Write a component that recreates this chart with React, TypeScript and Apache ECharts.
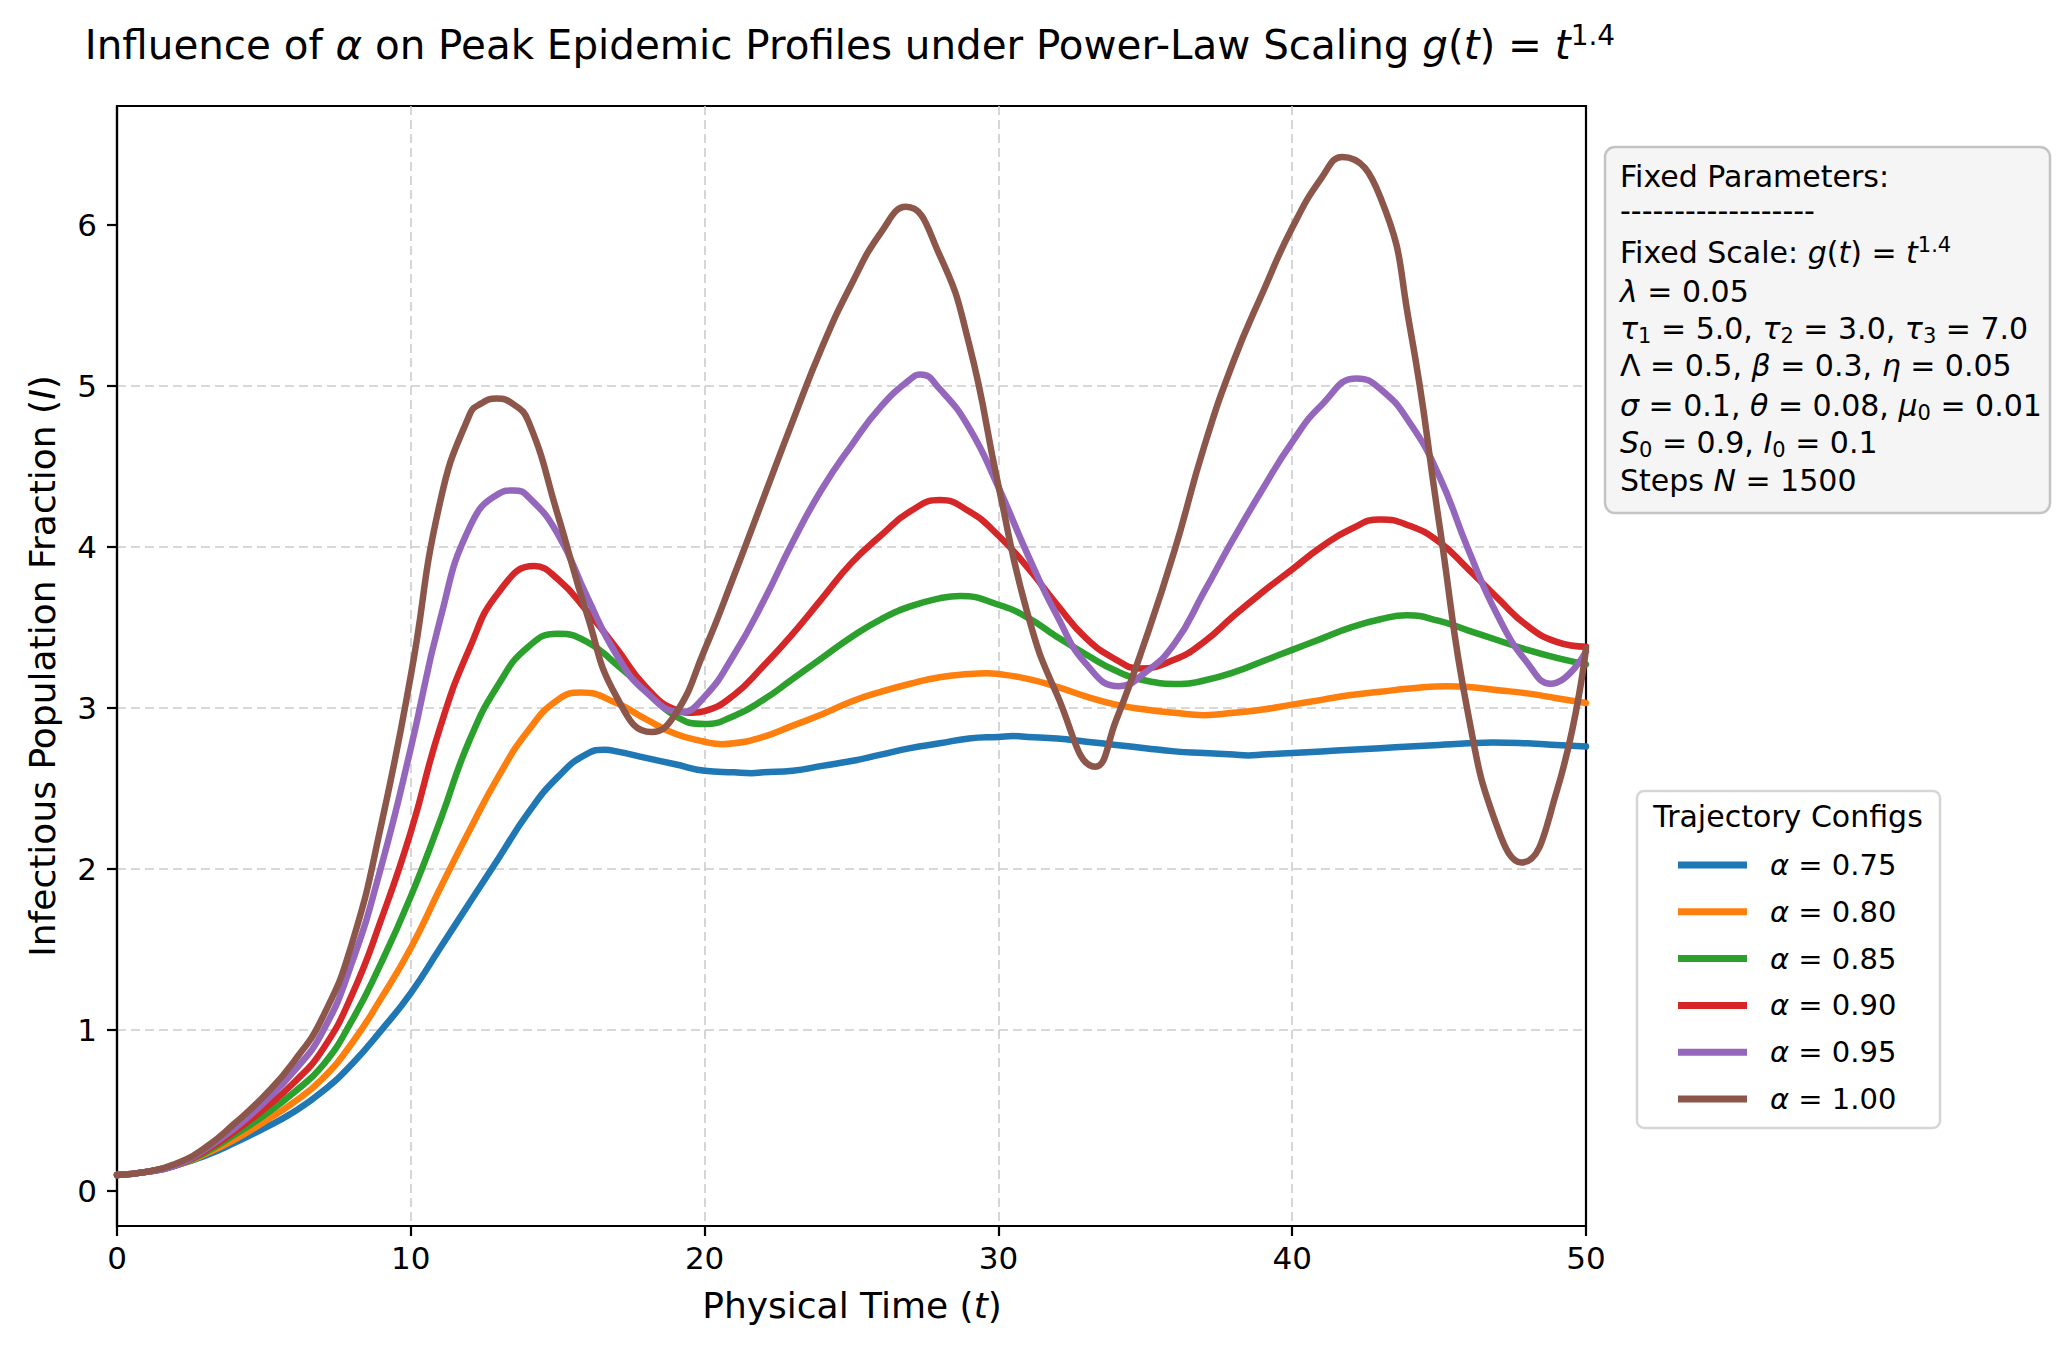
import React, { useEffect, useRef } from "react";
import * as echarts from "echarts";

// ---------------- data ----------------
const TIME = [
  0, 1, 2, 3, 4, 5, 6, 7, 8, 9,
  10, 11, 12, 13, 14, 15, 16, 17, 18, 19,
  20, 21, 22, 23, 24, 25, 26, 27, 28, 29,
  30, 31, 32, 33, 34, 35, 36, 37, 38, 39,
  40, 41, 42, 43, 44, 45, 46, 47, 48, 49, 50,
];

const ALPHA_LABELS = ["0.75", "0.80", "0.85", "0.90", "0.95", "1.00"];
const COLORS = ["#1f77b4", "#ff7f0e", "#2ca02c", "#d62728", "#9467bd", "#8c564b"];

// values on the integer time grid
const I_A075 = [
  0.10, 0.12, 0.16, 0.22, 0.30, 0.39, 0.49, 0.62, 0.79, 1.00,
  1.23, 1.51, 1.79, 2.07, 2.35, 2.57, 2.715, 2.73, 2.69, 2.65,
  2.61, 2.60, 2.60, 2.61, 2.64, 2.67, 2.71, 2.75, 2.78, 2.81,
  2.82, 2.82, 2.81, 2.79, 2.77, 2.75, 2.73, 2.72, 2.71, 2.71,
  2.72, 2.73, 2.74, 2.75, 2.76, 2.77, 2.78, 2.78, 2.78, 2.77, 2.76,
];
const I_A080 = [
  0.10, 0.12, 0.16, 0.23, 0.32, 0.43, 0.55, 0.70, 0.92, 1.20,
  1.51, 1.88, 2.24, 2.58, 2.86, 3.05, 3.09, 3.03, 2.93, 2.84,
  2.79, 2.78, 2.82, 2.89, 2.96, 3.04, 3.10, 3.15, 3.19, 3.21,
  3.21, 3.18, 3.13, 3.07, 3.02, 2.99, 2.97, 2.96, 2.97, 2.99,
  3.02, 3.05, 3.08, 3.10, 3.12, 3.13, 3.13, 3.11, 3.09, 3.06, 3.03,
];
const I_A085 = [
  0.10, 0.12, 0.16, 0.24, 0.35, 0.47, 0.61, 0.78, 1.06, 1.42,
  1.83, 2.30, 2.80, 3.15, 3.38, 3.46, 3.41, 3.27, 3.11, 2.95,
  2.90, 2.95, 3.05, 3.18, 3.31, 3.44, 3.55, 3.63, 3.68, 3.69,
  3.64, 3.56, 3.44, 3.33, 3.23, 3.17, 3.15, 3.17, 3.22, 3.29,
  3.36, 3.43, 3.50, 3.55, 3.57, 3.54, 3.48, 3.42, 3.36, 3.31, 3.27,
];
const I_A090 = [
  0.10, 0.12, 0.16, 0.25, 0.37, 0.51, 0.67, 0.88, 1.22, 1.69,
  2.23, 2.88, 3.37, 3.72, 3.87, 3.80, 3.60, 3.37, 3.13, 2.99,
  2.98, 3.08, 3.26, 3.46, 3.68, 3.90, 4.07, 4.22, 4.29, 4.22,
  4.07, 3.87, 3.64, 3.43, 3.30, 3.25, 3.30, 3.41, 3.57, 3.72,
  3.86, 4.00, 4.11, 4.17, 4.13, 4.03, 3.86, 3.68, 3.51, 3.41, 3.38,
];
const I_A095 = [
  0.10, 0.12, 0.16, 0.26, 0.39, 0.55, 0.74, 0.99, 1.42, 2.02,
  2.75, 3.55, 4.12, 4.33, 4.31, 4.08, 3.69, 3.33, 3.10, 2.99,
  3.07, 3.33, 3.66, 4.03, 4.36, 4.63, 4.87, 5.04, 4.98, 4.74,
  4.37, 3.95, 3.57, 3.27, 3.14, 3.22, 3.40, 3.72, 4.05, 4.36,
  4.65, 4.88, 5.03, 4.98, 4.77, 4.44, 3.98, 3.57, 3.28, 3.16, 3.35,
];
const I_A100 = [
  0.10, 0.12, 0.17, 0.27, 0.42, 0.59, 0.80, 1.08, 1.54, 2.28,
  3.20, 4.28, 4.82, 4.91, 4.78, 4.20, 3.58, 3.07, 2.87, 2.96,
  3.36, 3.82, 4.30, 4.78, 5.24, 5.63, 5.95, 6.09, 5.81, 5.26,
  4.38, 3.58, 3.08, 2.67, 2.92, 3.42, 3.98, 4.62, 5.15, 5.58,
  5.98, 6.29, 6.40, 6.17, 5.37, 4.15, 2.95, 2.25, 2.05, 2.48, 3.37,
];

// extra points read between grid steps (peaks, troughs, rounded tops)
const EXT_A075_T = [16.6, 21.6, 30.5, 38.5, 46.8];
const EXT_A075_V = [2.74, 2.595, 2.825, 2.705, 2.785];
const EXT_A080_T = [15.8, 20.6, 29.6, 37.0, 45.3];
const EXT_A080_V = [3.095, 2.775, 3.215, 2.955, 3.135];
const EXT_A085_T = [15.0, 20.0, 28.7, 36.2, 43.9];
const EXT_A085_V = [3.46, 2.9, 3.695, 3.148, 3.575];
const EXT_A090_T = [14.2, 19.6, 28.0, 34.8, 43.0];
const EXT_A090_V = [3.88, 2.97, 4.29, 3.245, 4.17];
const EXT_A095_T = [13.5, 19.2, 27.35, 34.1, 42.2, 48.8];
const EXT_A095_V = [4.35, 2.975, 5.07, 3.135, 5.045, 3.15];
const EXT_A100_T = [12.4, 12.92, 13.45, 18.2, 26.85, 33.3, 41.7, 47.8];
const EXT_A100_V = [4.89, 4.92, 4.89, 2.85, 6.11, 2.635, 6.42, 2.04];

const SERIES_VALUES = [I_A075, I_A080, I_A085, I_A090, I_A095, I_A100];
const SERIES_EXT_T = [EXT_A075_T, EXT_A080_T, EXT_A085_T, EXT_A090_T, EXT_A095_T, EXT_A100_T];
const SERIES_EXT_V = [EXT_A075_V, EXT_A080_V, EXT_A085_V, EXT_A090_V, EXT_A095_V, EXT_A100_V];

const X_TICKS = [0, 10, 20, 30, 40, 50];
const Y_TICKS = [0, 1, 2, 3, 4, 5, 6];
const X_MIN = 0;
const X_MAX = 50;
const Y_MIN = -0.216;
const Y_MAX = 6.736;

const PARAM_LINES = [
  "{n|Fixed Parameters:}",
  "{n|------------------}",
  "{n|Fixed Scale: }{i|g}{n|(}{i|t}{n|) = }{i|t}{p|1.4}",
  "{i|λ}{n| = 0.05}",
  "{i|τ}{b|1}{n| = 5.0, }{i|τ}{b|2}{n| = 3.0, }{i|τ}{b|3}{n| = 7.0}",
  "{n|Λ = 0.5, }{i|β}{n| = 0.3, }{i|η}{n| = 0.05}",
  "{i|σ}{n| = 0.1, }{i|θ}{n| = 0.08, }{i|μ}{b|0}{n| = 0.01}",
  "{i|S}{b|0}{n| = 0.9, }{i|I}{b|0}{n| = 0.1}",
  "{n|Steps }{i|N}{n| = 1500}",
];

// ---------------- styling ----------------
const FONT = "'DejaVu Sans', 'Liberation Sans', sans-serif";

function mathRich(base: number, lh: number, sub: number, subH: number, supH: number) {
  return {
    n: { fontSize: base, fontFamily: FONT, lineHeight: lh, fill: "#000", color: "#000" },
    i: { fontSize: base, fontFamily: FONT, fontStyle: "italic", lineHeight: lh, fill: "#000", color: "#000" },
    b: { fontSize: sub, fontFamily: FONT, lineHeight: subH, verticalAlign: "bottom", fill: "#000", color: "#000" },
    p: { fontSize: sub, fontFamily: FONT, lineHeight: supH, verticalAlign: "top", fill: "#000", color: "#000" },
  };
}

const PARAM_Y = [176.5, 210.5, 252.5, 291.5, 328.5, 365, 405, 442.5, 480];

function buildPoints(vals: number[], extT: number[], extV: number[]) {
  const pts: number[][] = [];
  TIME.forEach((t, i) => {
    if (!extT.some((e) => Math.abs(e - t) < 0.35)) pts.push([t, vals[i]]);
  });
  extT.forEach((t, j) => pts.push([t, extV[j]]));
  pts.sort((a, b) => a[0] - b[0]);
  return pts;
}

export default function App() {
  const ref = useRef<HTMLDivElement | null>(null);

  useEffect(() => {
    if (!ref.current) return;
    const chart = echarts.init(ref.current, null, { renderer: "svg" });

    const series = SERIES_VALUES.map((vals, k) => ({
      name: "α = " + ALPHA_LABELS[k],
      type: "line",
      data: buildPoints(vals, SERIES_EXT_T[k], SERIES_EXT_V[k]),
      showSymbol: false,
      symbol: "none",
      smooth: 0.5,
      clip: true,
      lineStyle: { width: 6.5, color: COLORS[k], cap: "round", join: "round" },
      itemStyle: { color: COLORS[k] },
      emphasis: { disabled: true },
      silent: true,
    }));

    const paramTexts = PARAM_LINES.map((txt, i) => ({
      type: "text",
      x: 1620,
      y: PARAM_Y[i],
      z: 2,
      style: {
        text: txt,
        align: "left",
        verticalAlign: "middle",
        fill: "#000",
        font: "30px " + FONT,
        rich: mathRich(30, 36, 21, 22, 22),
      },
    }));

    const option: any = {
      animation: false,
      backgroundColor: "#ffffff",
      textStyle: { fontFamily: FONT },
      grid: {
        left: 117,
        top: 106,
        width: 1469,
        height: 1120,
        show: true,
        borderColor: "#000",
        borderWidth: 2.2,
        backgroundColor: "transparent",
        containLabel: false,
      },
      xAxis: {
        type: "value",
        min: X_MIN,
        max: X_MAX,
        interval: 10,
        axisLine: { show: true, onZero: false, lineStyle: { color: "#000", width: 2.2 } },
        axisTick: { show: true, inside: false, length: 10, lineStyle: { color: "#000", width: 2.2 }, customValues: X_TICKS },
        axisLabel: { show: true, color: "#000", fontSize: 31, fontFamily: FONT, margin: 16, customValues: X_TICKS },
        splitLine: {
          show: true,
          showMinLine: false,
          showMaxLine: false,
          lineStyle: { color: "#cccccc", width: 1.6, type: [9, 5] },
        },
      },
      yAxis: {
        type: "value",
        min: Y_MIN,
        max: Y_MAX,
        axisLine: { show: true, onZero: false, lineStyle: { color: "#000", width: 2.2 } },
        axisTick: { show: true, inside: false, length: 10, lineStyle: { color: "#000", width: 2.2 }, customValues: Y_TICKS },
        axisLabel: { show: true, color: "#000", fontSize: 31, fontFamily: FONT, margin: 20, customValues: Y_TICKS },
        splitLine: {
          show: true,
          showMinLine: false,
          showMaxLine: false,
          lineStyle: { color: "#cccccc", width: 1.6, type: [9, 5] },
        },
      },
      legend: {
        show: true,
        orient: "vertical",
        left: 1678,
        top: 850,
        padding: 0,
        itemWidth: 69,
        itemHeight: 7,
        itemGap: 16.8,
        icon: "rect",
        selectedMode: false,
        z: 10,
        itemStyle: { borderWidth: 0 },
        textStyle: {
          color: "#000",
          fontSize: 29,
          fontFamily: FONT,
          lineHeight: 30,
          rich: {
            a: { fontSize: 29, fontFamily: FONT, fontStyle: "italic", lineHeight: 30, color: "#000", padding: [0, 0, 0, 18] },
            v: { fontSize: 29, fontFamily: FONT, lineHeight: 30, color: "#000" },
          },
        },
        formatter: (name: string) => "{a|α}{v| = " + name.split(" = ")[1] + "}",
        data: ALPHA_LABELS.map((a) => "α = " + a),
      },
      tooltip: { show: false },
      series,
      graphic: [
        {
          type: "text",
          x: 850,
          y: 45,
          style: {
            text:
              "{n|Influence of }{i|α}{n| on Peak Epidemic Profiles under Power-Law Scaling }{i|g}{n|(}{i|t}{n|) = }{i|t}{p|1.4}",
            align: "center",
            verticalAlign: "middle",
            fill: "#000",
            font: "40.4px " + FONT,
            rich: mathRich(40.4, 48, 28, 30, 32),
          },
        },
        {
          type: "text",
          x: 852,
          y: 1305,
          style: {
            text: "{n|Physical Time (}{i|t}{n|)}",
            align: "center",
            verticalAlign: "middle",
            fill: "#000",
            font: "36px " + FONT,
            rich: mathRich(36, 42, 25, 26, 26),
          },
        },
        {
          type: "text",
          x: 42,
          y: 666,
          rotation: Math.PI / 2,
          style: {
            text: "{n|Infectious Population Fraction (}{i|I}{n|)}",
            align: "center",
            verticalAlign: "middle",
            fill: "#000",
            font: "36px " + FONT,
            rich: mathRich(36, 42, 25, 26, 26),
          },
        },
        {
          type: "rect",
          z: 1,
          shape: { x: 1605, y: 147, width: 445, height: 366, r: 10 },
          style: { fill: "#f5f5f5", stroke: "#c4c4c4", lineWidth: 2.5 },
        },
        ...paramTexts,
        {
          type: "rect",
          z: 1,
          shape: { x: 1637, y: 791, width: 303, height: 337, r: 7 },
          style: { fill: "#ffffff", stroke: "#d6d6d6", lineWidth: 2.5 },
        },
        {
          type: "text",
          x: 1788,
          y: 816,
          z: 2,
          style: {
            text: "Trajectory Configs",
            align: "center",
            verticalAlign: "middle",
            fill: "#000",
            font: "30px " + FONT,
          },
        },
      ],
    };

    chart.setOption(option);
    return () => {
      chart.dispose();
    };
  }, []);

  return (
    <div
      ref={ref}
      style={{ position: "absolute", left: 0, top: 0, width: 2070, height: 1345, background: "#fff" }}
    />
  );
}
